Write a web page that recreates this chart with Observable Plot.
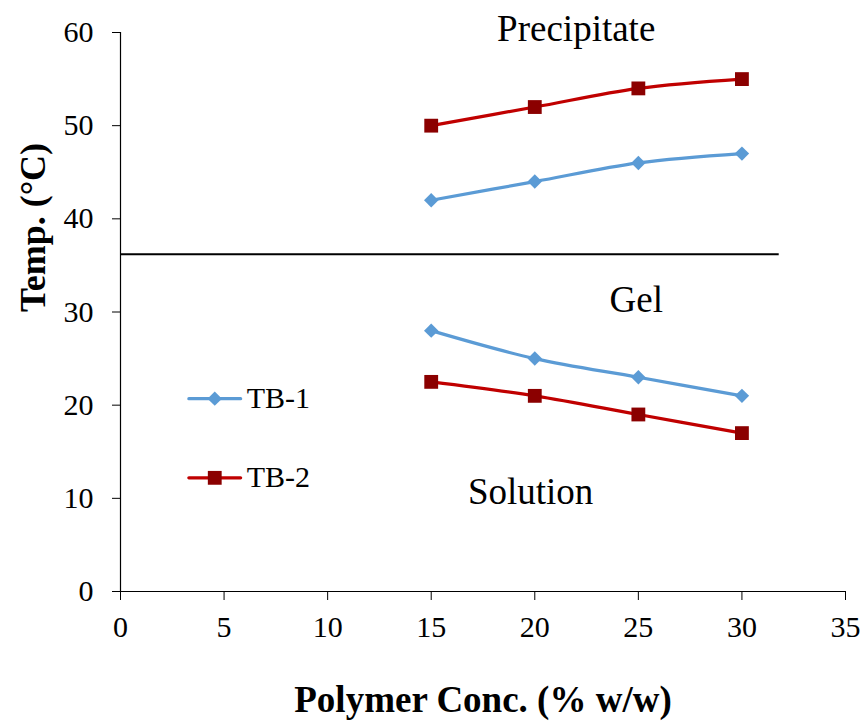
<!DOCTYPE html>
<html>
<head>
<meta charset="utf-8">
<script src="https://cdn.jsdelivr.net/npm/d3@7"></script>
<script src="https://cdn.jsdelivr.net/npm/@observablehq/plot@0.6"></script>
<style>
  html, body { margin: 0; padding: 0; background: #fff; }
  #chart { width: 867px; height: 723px; }
  #chart svg, #chart svg text { font-family: "Liberation Serif", "Times New Roman", Times, serif !important; }
</style>
</head>
<body>
<div id="chart"></div>
<script>
// ---- data ----
const conc = [15, 20, 25, 30];
const tb1Upper = [42, 44, 46, 47];     // TB-1 gel -> precipitate
const tb2Upper = [50, 52, 54, 55];     // TB-2 gel -> precipitate
const tb1Lower = [28, 25, 23, 21];     // TB-1 solution -> gel
const tb2Lower = [22.5, 21, 19, 17];   // TB-2 solution -> gel
const bodyTemp = 36.2;                 // horizontal reference line
const bodyTempXEnd = 31.8;
const xTicks = [0, 5, 10, 15, 20, 25, 30, 35];
const yTicks = [0, 10, 20, 30, 40, 50, 60];
const regionLabels = ["Precipitate", "Gel", "Solution"];
const regionX = [22, 24.9, 19.8];
const regionY = [60.4, 31.3, 10.7];
const seriesNames = ["TB-1", "TB-2"];
const seriesColors = ["#5B9BD5", "#C00000"];
const markerFill = ["#5B9BD5", "#8B0000"];
const legendY = [20.7, 12.2];
const legendX = [3.3, 5.8];

const FONT = '"Liberation Serif", "Times New Roman", Times, serif';

// build tables
const rows = [];
const branches = [
  ["TB-1", "upper", tb1Upper], ["TB-2", "upper", tb2Upper],
  ["TB-1", "lower", tb1Lower], ["TB-2", "lower", tb2Lower]
];
for (const [s, b, vals] of branches) {
  conc.forEach((c, i) => rows.push({series: s, branch: b, key: s + b, x: c, y: vals[i]}));
}
const regions = regionLabels.map((t, i) => ({text: t, x: regionX[i], y: regionY[i]}));
const legendLines = [];
seriesNames.forEach((s, i) => {
  legendLines.push({series: s, x: legendX[0], y: legendY[i]});
  legendLines.push({series: s, x: legendX[1], y: legendY[i]});
});
const legendPts = seriesNames.map((s, i) => ({series: s, x: (legendX[0] + legendX[1]) / 2, y: legendY[i]}));
const legendText = seriesNames.map((s, i) => ({series: s, x: legendX[1], y: legendY[i]}));

const strokeOf = s => seriesColors[seriesNames.indexOf(s)];

const chart = Plot.plot({
  width: 867,
  height: 723,
  marginLeft: 120,
  marginRight: 22,
  marginTop: 32,
  marginBottom: 132,
  style: {fontFamily: FONT, fontSize: "30px", color: "#000", background: "#fff"},
  x: {domain: [0, 35], ticks: xTicks, label: null},
  y: {domain: [0, 60], ticks: yTicks, label: null},
  marks: [
    Plot.axisX({ticks: xTicks, tickSize: 9, tickPadding: 15, fontSize: 30, fontFamily: FONT, label: null, stroke: "#000"}),
    Plot.axisY({ticks: yTicks, tickSize: 8, tickPadding: 19, fontSize: 30, fontFamily: FONT, label: null, stroke: "#000"}),
    Plot.ruleY([0], {stroke: "#000", strokeWidth: 1.2}),
    Plot.ruleX([0], {stroke: "#000", strokeWidth: 1.2}),
    Plot.ruleY([bodyTemp], {x1: 0, x2: bodyTempXEnd, stroke: "#000", strokeWidth: 2}),
    Plot.line(rows, {x: "x", y: "y", z: "key", stroke: d => strokeOf(d.series), strokeWidth: 3.2, curve: "catmull-rom"}),
    Plot.dot(rows.filter(d => d.series === "TB-1"), {x: "x", y: "y", symbol: "diamond2", r: 6.5, fill: markerFill[0], stroke: "none"}),
    Plot.dot(rows.filter(d => d.series === "TB-2"), {x: "x", y: "y", symbol: "square", r: 7.8, fill: markerFill[1], stroke: "none"}),
    Plot.text(regions, {x: "x", y: "y", text: "text", fontSize: 37, fontFamily: FONT, textAnchor: "middle", lineAnchor: "middle", fill: "#000"}),
    // legend
    Plot.line(legendLines, {x: "x", y: "y", z: "series", stroke: d => strokeOf(d.series), strokeWidth: 3.2}),
    Plot.dot(legendPts.filter(d => d.series === "TB-1"), {x: "x", y: "y", symbol: "diamond2", r: 6.5, fill: markerFill[0]}),
    Plot.dot(legendPts.filter(d => d.series === "TB-2"), {x: "x", y: "y", symbol: "square", r: 7.8, fill: markerFill[1]}),
    Plot.text(legendText, {x: "x", y: "y", text: "series", textAnchor: "start", lineAnchor: "middle", dx: 6, fontSize: 30, fontFamily: FONT, fill: "#000"}),
    // axis titles
    Plot.text(["Polymer Conc. (% w/w)"], {frameAnchor: "bottom", dy: 109, text: d => d, fontSize: 37, fontFamily: FONT, fontWeight: "bold", lineAnchor: "middle", fill: "#000"}),
    Plot.text(["Temp. (°C)"], {frameAnchor: "left", dx: -87, rotate: -90, text: d => d, fontSize: 36, fontFamily: FONT, fontWeight: "bold", lineAnchor: "middle", fill: "#000"})
  ]
});
document.getElementById("chart").appendChild(chart);
</script>
</body>
</html>
